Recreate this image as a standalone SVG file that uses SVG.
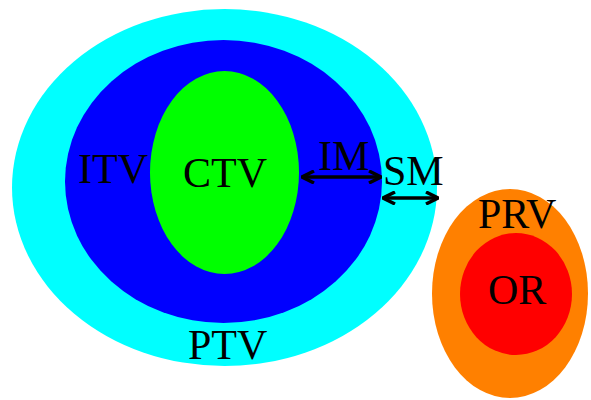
<svg xmlns="http://www.w3.org/2000/svg" width="591" height="400" viewBox="0 0 591 400">
<style>
.lbl{font-family:"Liberation Serif","Times New Roman",serif;font-size:42px;fill:#000}
.arr{stroke:#000;stroke-width:3.5;fill:none}
</style>
<defs>
<marker id="ah" viewBox="0 0 14 14" refX="13" refY="7" markerWidth="14" markerHeight="14" markerUnits="userSpaceOnUse" orient="auto-start-reverse">
<path d="M1,1 L13,7 L1,13" fill="none" stroke="#000" stroke-width="3.5"/>
</marker>
</defs>
<rect width="591" height="400" fill="#fff"/>
<g id="PTV"><ellipse cx="224.5" cy="187.5" rx="212.5" ry="178.5" fill="#00ffff"/><text class="lbl" x="188" y="359">PTV</text></g>
<g id="ITV"><ellipse cx="223.5" cy="181.5" rx="158.5" ry="141.5" fill="#0000ff"/><text class="lbl" x="78" y="183">ITV</text></g>
<g id="CTV"><ellipse cx="224.5" cy="172.5" rx="74.5" ry="101.5" fill="#00ff00"/><text class="lbl" x="183" y="187">CTV</text></g>
<g id="PRV"><ellipse cx="510" cy="293.5" rx="78" ry="104.5" fill="#ff8000"/><text class="lbl" x="478" y="228" font-size="40">PRV</text></g>
<g id="OR"><ellipse cx="516" cy="294" rx="56" ry="61" fill="#ff0000"/><text class="lbl" x="488" y="304">OR</text></g>
<g id="connectors">
<line class="arr" x1="302" y1="177" x2="381" y2="177" marker-start="url(#ah)" marker-end="url(#ah)"/>
<line class="arr" x1="383" y1="198" x2="438" y2="198" marker-start="url(#ah)" marker-end="url(#ah)"/>
<text class="lbl" x="318" y="170" font-size="40">IM</text>
<text class="lbl" x="383" y="185">SM</text>
</g>
</svg>
